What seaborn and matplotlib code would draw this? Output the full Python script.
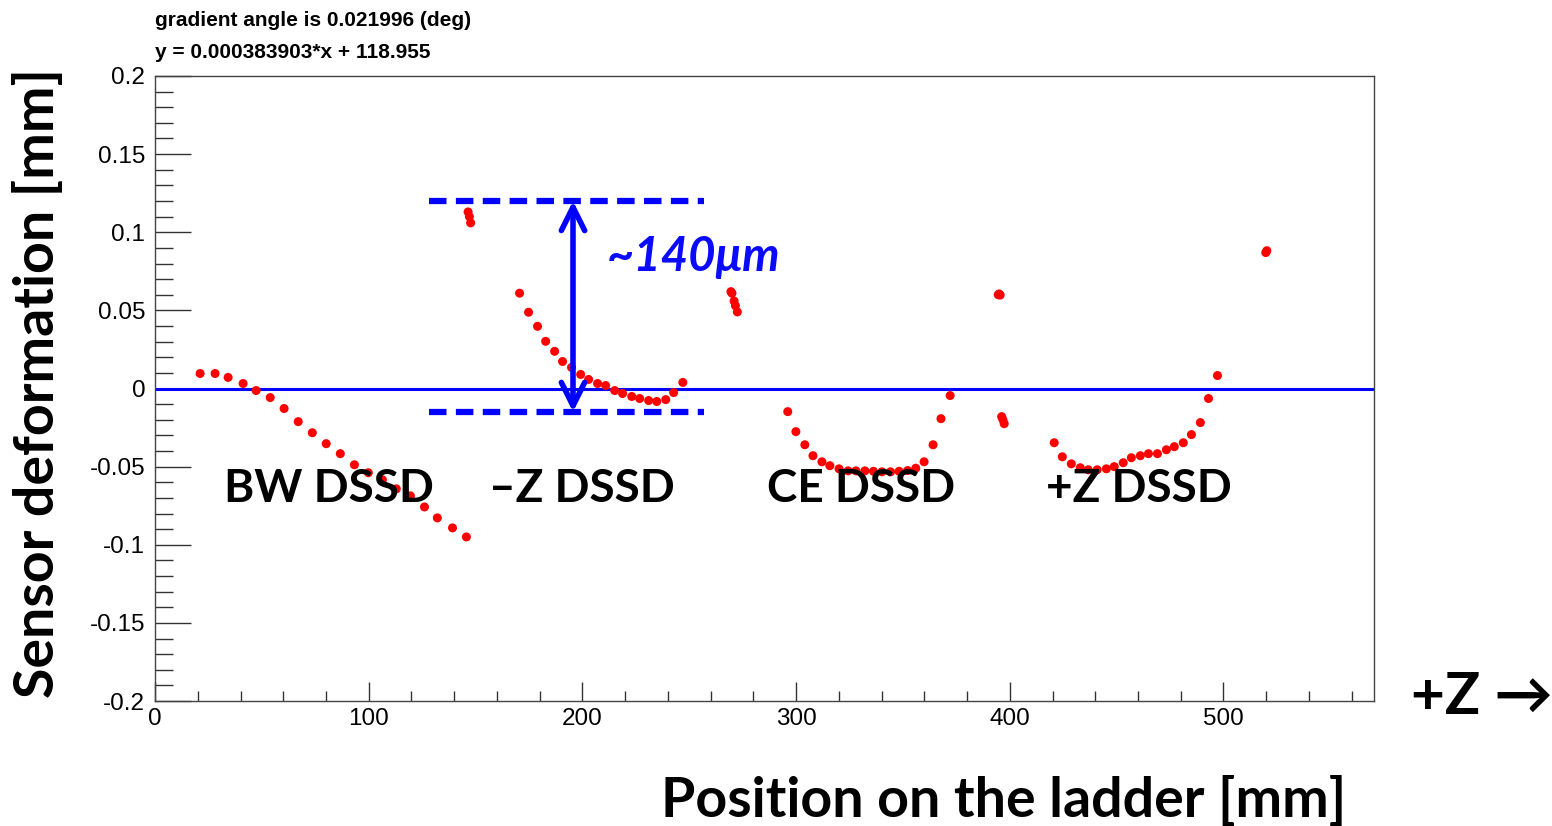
import matplotlib
matplotlib.use('Agg')
import matplotlib.pyplot as plt
from matplotlib.ticker import MultipleLocator
import numpy as np
import pandas as pd
import seaborn as sns

# sensor groups (position mm, deformation mm)
bw_x = [21.1, 28.1, 34.2, 41.2, 47.3, 53.9, 60.4, 67.0, 73.6, 80.1,
        86.7, 93.3, 99.8, 106.4, 112.9, 119.5, 126.1, 132.1, 139.2, 145.7]
bw_y = [0.0096, 0.0096, 0.0071, 0.0032, -0.0013, -0.0058, -0.0128, -0.0212, -0.0283, -0.0353,
        -0.0417, -0.0488, -0.0539, -0.0584, -0.0642, -0.0687, -0.0758, -0.0828, -0.0892, -0.0950]
mz_x = [170.6, 174.8, 179.0, 182.8, 187.0, 190.7, 194.9, 199.2, 202.9, 207.1,
        210.9, 215.1, 218.8, 223.1, 226.8, 231.0, 234.8, 239.0, 242.7, 247.0]
mz_y = [0.0610, 0.0488, 0.0398, 0.0302, 0.0238, 0.0173, 0.0135, 0.0090, 0.0058, 0.0032,
        0.0019, -0.0013, -0.0032, -0.0051, -0.0064, -0.0077, -0.0083, -0.0071, -0.0026, 0.0039]
ce_x = [296.1, 299.9, 304.1, 307.9, 312.1, 315.8, 320.1, 324.3, 328.0, 332.2,
        336.2, 340.2, 344.2, 348.2, 352.2, 356.0, 359.9, 364.1, 367.8, 372.1]
ce_y = [-0.0148, -0.0276, -0.0360, -0.0430, -0.0469, -0.0494, -0.0514, -0.0527, -0.0527, -0.0527,
        -0.0530, -0.0533, -0.0533, -0.0530, -0.0525, -0.0510, -0.0469, -0.0360, -0.0193, -0.0045]
pz_x = [420.8, 424.6, 428.8, 433.0, 436.7, 440.9, 445.2, 448.9, 453.1, 456.9,
        461.1, 464.9, 469.1, 473.3, 477.0, 481.2, 485.0, 489.2, 493.0, 497.2]
pz_y = [-0.0347, -0.0437, -0.0482, -0.0507, -0.0520, -0.0520, -0.0514, -0.0500, -0.0475, -0.0443,
        -0.0430, -0.0417, -0.0417, -0.0392, -0.0372, -0.0347, -0.0295, -0.0218, -0.0064, 0.0083]
# isolated points at the sensor ends
edge_x = [146.5, 147.1, 147.7, 269.5, 270.0, 271.0, 271.6, 272.5,
          394.6, 395.0, 395.5, 396.2, 396.8, 397.4, 519.8, 520.3]
edge_y = [0.113, 0.110, 0.106, 0.062, 0.061, 0.056, 0.053, 0.049,
          0.060, 0.0605, 0.0598, -0.018, -0.020, -0.0225, 0.0870, 0.0882]

labels = ['BW DSSD', '\u2013Z DSSD', 'CE DSSD', '+Z DSSD']
label_x = [81.4, 199.8, 330.4, 460.5]
label_y = -0.064

gap_top, gap_bottom = 0.12, -0.015
gap_x0, gap_x1, gap_arrow_x = 128, 257, 195.6

df = pd.DataFrame({
    'pos': bw_x + mz_x + ce_x + pz_x + edge_x,
    'dev': bw_y + mz_y + ce_y + pz_y + edge_y,
})

sns.set_style('white')
plt.rcParams['font.family'] = ['Liberation Sans', 'DejaVu Sans']
plt.rcParams['text.color'] = 'black'
big = ['Lato', 'DejaVu Sans']

fig = plt.figure(figsize=(15.52, 8.26), dpi=100)
ax = fig.add_axes([0.0999, 0.1513, 0.7852, 0.7567])

sns.scatterplot(data=df, x='pos', y='dev', color='red', s=42, edgecolor='none', ax=ax, zorder=3)
ax.axhline(0, color='#0000ff', lw=2.2, zorder=2)

for yy in (gap_top, gap_bottom):
    ax.plot([gap_x0, gap_x1], [yy, yy], color='#0000ff', lw=4.5, dashes=(2.8, 1.5), zorder=4)
ax.annotate('', xy=(gap_arrow_x, gap_top), xytext=(gap_arrow_x, gap_bottom),
            arrowprops=dict(arrowstyle='<->', color='#0000ff', lw=4,
                            mutation_scale=42, shrinkA=0, shrinkB=0), zorder=4)
ax.text(251.8, 0.084, '~140\u03bcm', color='#0a0aff', fontsize=34, fontweight='bold',
        fontstyle='italic', family=big, ha='center', va='center', zorder=5)

for lab, lx in zip(labels, label_x):
    ax.text(lx, label_y, lab, fontsize=33, fontweight='bold', family=big,
            ha='center', va='center', zorder=5)

ax.set_xlim(0, 570.3)
ax.set_ylim(-0.2, 0.2)
ax.xaxis.set_major_locator(MultipleLocator(100))
ax.xaxis.set_minor_locator(MultipleLocator(20))
ax.yaxis.set_major_locator(MultipleLocator(0.05))
ax.yaxis.set_minor_locator(MultipleLocator(0.01))
ax.set_yticks(np.arange(-0.2, 0.201, 0.05))
ax.set_yticklabels(['-0.2', '-0.15', '-0.1', '-0.05', '0', '0.05', '0.1', '0.15', '0.2'])
ax.tick_params(axis='both', which='both', direction='in', colors='#333333', labelcolor='black',
               labelsize=17.5, top=False, right=False, bottom=True, left=True)
ax.tick_params(axis='y', which='major', length=26, width=1, pad=7)
ax.tick_params(axis='y', which='minor', length=13, width=1)
ax.tick_params(axis='x', which='major', length=14, width=1, pad=5)
ax.tick_params(axis='x', which='minor', length=7, width=1)
for sp in ax.spines.values():
    sp.set_color('#444444')
    sp.set_linewidth(1)
ax.set_xlabel('')
ax.set_ylabel('')

fig.text(155 / 1552, 1 - 20 / 826, 'gradient angle is 0.021996 (deg)', fontsize=15,
         fontweight='bold', va='center', ha='left')
fig.text(155 / 1552, 1 - 52 / 826, 'y = 0.000383903*x + 118.955', fontsize=15,
         fontweight='bold', va='center', ha='left')
fig.text(1004 / 1552, 1 - 800 / 826, 'Position on the ladder [mm]', fontsize=40,
         fontweight='bold', family=big, ha='center', va='center')
fig.text(38 / 1552, 1 - 383 / 826, 'Sensor deformation [mm]', fontsize=40,
         fontweight='bold', family=big, ha='center', va='center', rotation=90)
fig.text(1482 / 1552, 1 - 697 / 826, '+Z \u2192', fontsize=42,
         fontweight='bold', family=big, ha='center', va='center')

fig.savefig('out.png', dpi=100)
